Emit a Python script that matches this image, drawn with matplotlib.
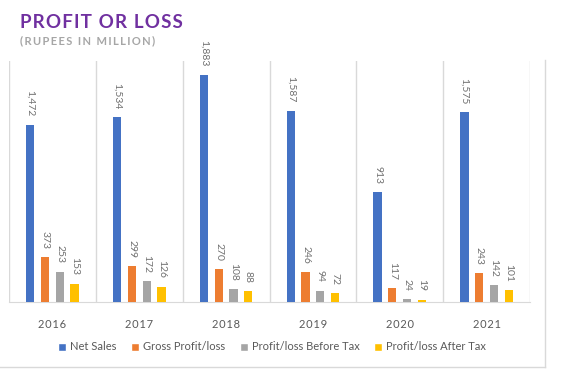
import matplotlib
matplotlib.use("Agg")
import matplotlib.pyplot as plt
import numpy as np
from matplotlib.lines import Line2D

years = ["2016", "2017", "2018", "2019", "2020", "2021"]
series_names = ["Net Sales", "Gross Profit/loss", "Profit/loss Before Tax", "Profit/loss After Tax"]
net_sales = [1472, 1534, 1883, 1587, 913, 1575]
gross_profit = [373, 299, 270, 246, 117, 243]
pbt = [253, 172, 108, 94, 24, 142]
pat = [153, 126, 88, 72, 19, 101]
colors = ["#4472C4", "#ED7D31", "#A5A5A5", "#FFC000"]

plt.rcParams['font.family'] = ['Lato', 'DejaVu Sans']
W, H = 563, 387
fig = plt.figure(figsize=(W/100, H/100), dpi=100)
ax = fig.add_axes([9/W, 1-302/H, (530-9)/W, (302-61)/H])
ax.set_clip_on(False)

x = np.arange(len(years))
step = 0.17
bw = 0.095
all_series = [net_sales, gross_profit, pbt, pat]
for i, (vals, c) in enumerate(zip(all_series, colors)):
    xs = x + (i-1.5)*step
    ax.bar(xs, vals, width=bw, color=c, zorder=3)
    for xi, v in zip(xs, vals):
        t = ax.annotate(f"{v:,}", (xi, v), xytext=(0, 6), textcoords="offset points",
                        rotation=-90, ha="center", va="bottom", fontsize=7.5,
                        color="#707070", annotation_clip=False)

ax.set_xlim(-0.5, len(years)-0.5)
ax.set_ylim(0, 2000)
for b in np.arange(-0.5, len(years)+0.5, 1):
    ax.axvline(b, color="#D9D9D9", lw=1, zorder=1)
for s in ["top", "right", "left"]:
    ax.spines[s].set_visible(False)
ax.spines["bottom"].set_color("#D9D9D9")
ax.set_yticks([])
ax.set_xticks(x)
ax.set_xticklabels(["\u200a".join(y) for y in years], fontsize=8, color="#595959")
ax.tick_params(axis="x", length=0, pad=12)

fig.text(20/W, 1-22/H, "\u200a".join("PROFIT OR LOSS"), fontsize=13.5, fontweight="bold",
         color="#7030A0", va="center", ha="left")
fig.text(20/W, 1-41/H, "\u2009".join("(RUPEES IN MILLION)"), fontsize=8, fontweight="bold",
         color="#A6A6A6", va="center", ha="left")

handles = [Line2D([0], [0], marker="s", color="w", markerfacecolor=c, markersize=6, lw=0)
           for c in colors]
fig.legend(handles, series_names, loc="center left", bbox_to_anchor=(52/W, 1-347/H), ncol=4,
           frameon=False, fontsize=8, handlelength=0.8, handletextpad=0.3, columnspacing=1.3,
           labelcolor="#595959", borderpad=0)

fig.add_artist(Line2D([545/W, 545/W], [1-60/H, 1-367/H], color="#D9D9D9", lw=1))
fig.add_artist(Line2D([0, 545/W], [1-367/H, 1-367/H], color="#D9D9D9", lw=1))

fig.savefig("out.png", dpi=100)
